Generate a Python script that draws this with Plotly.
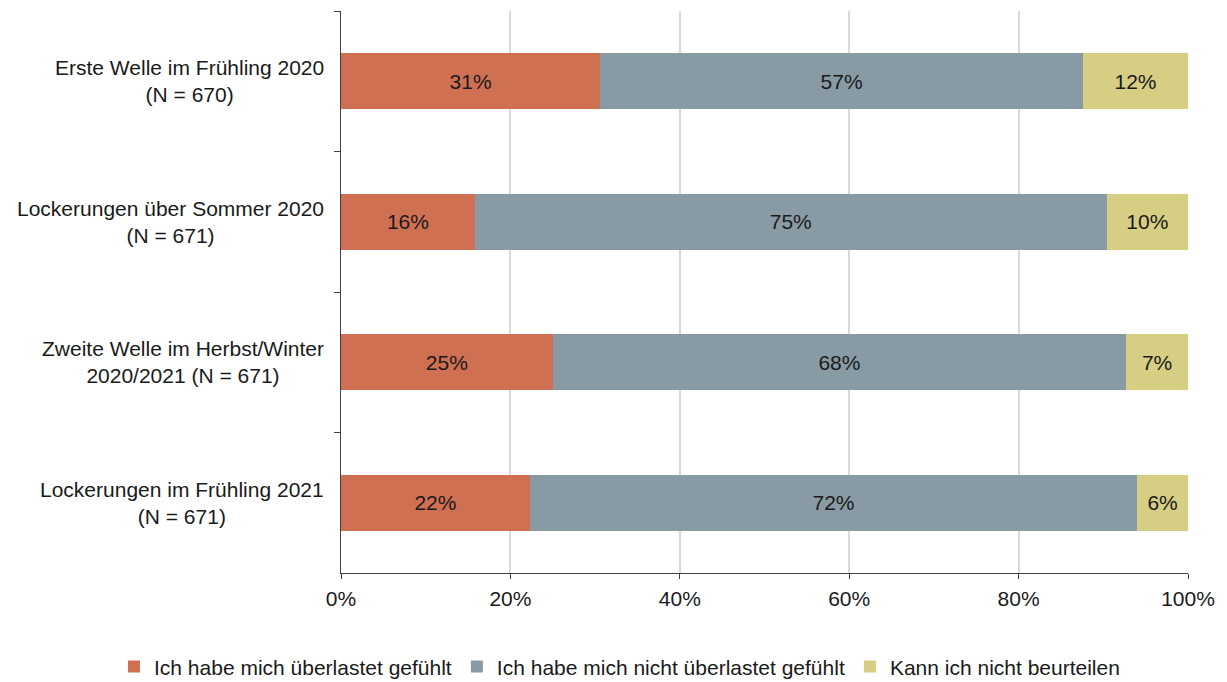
import plotly.graph_objects as go

# Survey periods (top to bottom)
categories = [
    "Erste Welle im Frühling 2020<br>(N = 670)",
    "Lockerungen über Sommer 2020<br>(N = 671)",
    "Zweite Welle im Herbst/Winter<br>2020/2021 (N = 671)",
    "Lockerungen im Frühling 2021<br>(N = 671)",
]

# Shares in percent per answer option
ueberlastet = [30.6, 15.8, 25.0, 22.3]
nicht_ueberlastet = [57.0, 74.6, 67.7, 71.7]
kann_nicht = [12.4, 9.6, 7.3, 6.0]

series_names = [
    "Ich habe mich überlastet gefühlt",
    "Ich habe mich nicht überlastet gefühlt",
    "Kann ich nicht beurteilen",
]
series_values = [ueberlastet, nicht_ueberlastet, kann_nicht]
series_colors = ["#D07053", "#889BA4", "#D6CE82"]

FONT = "Liberation Sans, Arial, sans-serif"
FS = 21
TXT = "#1a1a1a"

fig = go.Figure()
for name, vals, col in zip(series_names, series_values, series_colors):
    fig.add_trace(go.Bar(
        y=categories,
        x=vals,
        name=name,
        orientation="h",
        marker=dict(color=col, line=dict(width=0)),
        texttemplate="%{x:.0f}%",
        textposition="inside",
        insidetextanchor="middle",
        textfont=dict(family=FONT, size=FS, color=TXT),
        hoverinfo="skip",
    ))

# Category labels as centered multi-line text left of the axis
for cat in categories:
    fig.add_annotation(
        x=0, xref="paper", y=cat, yref="y",
        text=cat, showarrow=False,
        xanchor="right", yanchor="middle", align="center",
        xshift=-15,
        font=dict(family=FONT, size=FS, color=TXT),
    )

fig.update_layout(
    width=1227, height=682,
    barmode="stack",
    bargap=0.6,
    plot_bgcolor="white",
    paper_bgcolor="white",
    margin=dict(l=341, r=39, t=11, b=109, autoexpand=False),
    font=dict(family=FONT, size=FS, color=TXT),
    showlegend=True,
    legend=dict(
        orientation="h",
        x=-0.268, xanchor="left",
        y=-0.167, yanchor="middle",
        font=dict(family=FONT, size=FS, color=TXT),
        traceorder="normal",
    ),
    xaxis=dict(
        range=[0, 100],
        dtick=20,
        ticksuffix="%",
        showgrid=True,
        gridcolor="#d9d9d9",
        gridwidth=1.5,
        zeroline=False,
        showline=True,
        linecolor="#404040",
        linewidth=1,
        ticks="outside",
        ticklen=5,
        tickcolor="#404040",
        ticklabelstandoff=2,
        tickfont=dict(family=FONT, size=FS, color=TXT),
        fixedrange=True,
    ),
    yaxis=dict(
        type="category",
        autorange="reversed",
        showticklabels=False,
        showgrid=False,
        showline=True,
        linecolor="#404040",
        linewidth=1,
        ticks="outside",
        tickson="boundaries",
        ticklen=6,
        tickcolor="#404040",
        fixedrange=True,
    ),
)

fig.write_html("out.html")
